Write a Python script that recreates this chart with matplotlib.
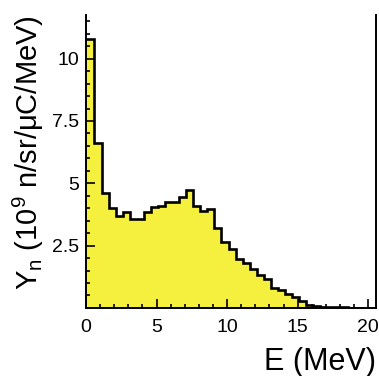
import matplotlib
matplotlib.use("Agg")
import matplotlib.pyplot as plt
import numpy as np
from matplotlib.ticker import MultipleLocator, FixedLocator

plt.rcParams['font.family'] = ['Liberation Sans', 'DejaVu Sans']
plt.rcParams['mathtext.fontset'] = 'custom'
plt.rcParams['mathtext.rm'] = 'Liberation Sans'

# Bin edges (MeV) and yields (1e9 n/sr/uC/MeV)
bin_edges = [0.0] + [0.6 + 0.5 * k for k in range(40)]
yields = [10.8, 6.6, 4.6, 4.0, 3.7, 3.85, 3.55, 3.55, 3.85, 4.05,
          4.1, 4.25, 4.27, 4.45, 4.75, 4.1, 3.87, 3.95, 3.2, 2.63,
          2.37, 1.96, 1.80, 1.56, 1.32, 1.16, 0.82, 0.73, 0.55, 0.42,
          0.26, 0.12, 0.06, 0.05, 0.04, 0.02, 0.02, 0.01, 0.01, 0.01]
n_filled = 32  # yellow fill ends near 16 MeV

x_ticks = [0, 5, 10, 15, 20]
y_ticks = [2.5, 5, 7.5, 10]
y_tick_labels = ['2.5', '5', '7.5', '10']

fig = plt.figure(figsize=(3.79, 3.76), dpi=100)
ax = fig.add_axes([0.227, 0.181, 0.765, 0.779])

ax.stairs(yields[:n_filled], bin_edges[:n_filled + 1], fill=True,
          color='#f5ef3e', linewidth=0, baseline=0)
ax.stairs(yields, bin_edges, color='black', linewidth=1.9, baseline=None)

ax.set_xlim(0, 20.55)
ax.set_ylim(0, 11.75)

ax.xaxis.set_major_locator(FixedLocator(x_ticks))
ax.xaxis.set_minor_locator(MultipleLocator(1))
ax.yaxis.set_major_locator(FixedLocator(y_ticks))
ax.set_yticklabels(y_tick_labels)
ax.yaxis.set_minor_locator(MultipleLocator(0.5))

ax.tick_params(which='both', direction='in', labelsize=14, width=1.2)
ax.tick_params(which='major', length=6.5)
ax.tick_params(which='minor', length=3)
ax.tick_params(axis='x', pad=8)
ax.tick_params(axis='y', pad=5)

for s in ['left', 'bottom', 'right']:
    ax.spines[s].set_linewidth(1.4)
ax.spines['top'].set_visible(False)

ax.set_xlabel('E (MeV)', fontsize=22, loc='right', labelpad=8)
ax.set_ylabel(r'Y$_\mathregular{n}$ (10$^\mathregular{9}$ n/sr/μC/MeV)',
              fontsize=21, loc='top', labelpad=4)

fig.savefig('out.png', dpi=100)
